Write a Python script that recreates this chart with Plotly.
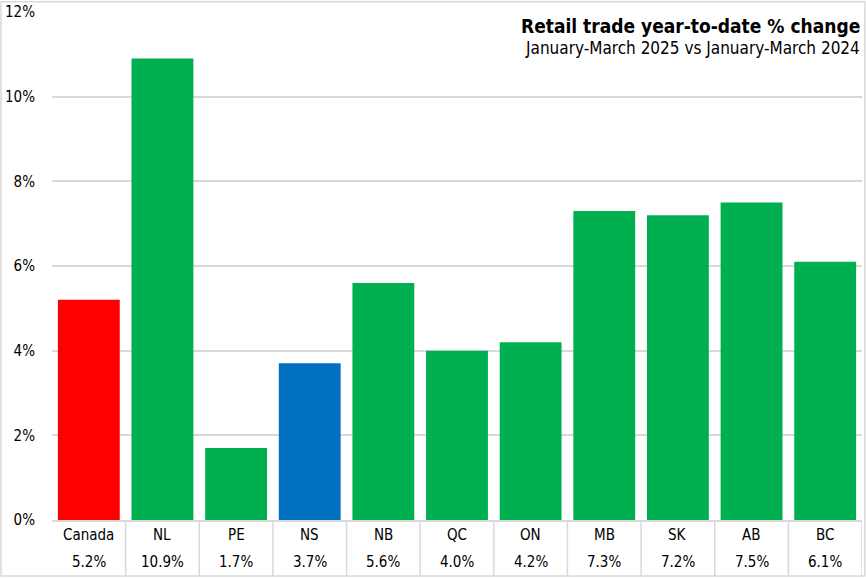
import plotly.graph_objects as go

categories = ["Canada", "NL", "PE", "NS", "NB", "QC", "ON", "MB", "SK", "AB", "BC"]
values = [5.2, 10.9, 1.7, 3.7, 5.6, 4.0, 4.2, 7.3, 7.2, 7.5, 6.1]
colors = ["#FF0000", "#00B050", "#00B050", "#0070C0", "#00B050", "#00B050",
          "#00B050", "#00B050", "#00B050", "#00B050", "#00B050"]
y_ticks = [0, 2, 4, 6, 8, 10, 12]
y_tick_labels = ["0%", "2%", "4%", "6%", "8%", "10%", "12%"]
title = "Retail trade year-to-date % change"
subtitle = "January-March 2025 vs January-March 2024"

FONT = "DejaVu Sans Condensed, Roboto, Liberation Sans"
LINE = "#D9D9D9"

fig = go.Figure()
fig.add_trace(go.Bar(
    x=list(range(len(categories))), y=values, marker_color=colors,
    marker_line_width=0, width=0.84, hoverinfo="skip"))

shapes = []
n = len(categories)
for k in range(1, n + 1):
    shapes.append(dict(type="line", xref="x", yref="paper",
                       x0=k - 0.5, x1=k - 0.5, y0=0, y1=-0.110,
                       line=dict(color=LINE, width=1.5)))
# outer border
shapes.append(dict(type="rect", xref="paper", yref="paper",
                   x0=-0.063, x1=1.0035, y0=-0.110, y1=1.020,
                   line=dict(color=LINE, width=1.5)))

annotations = []
for i, (c, v) in enumerate(zip(categories, values)):
    annotations.append(dict(x=i, y=-0.030, xref="x", yref="paper", text=c,
                            showarrow=False, font=dict(family=FONT, size=15, color="#000000"),
                            yanchor="middle"))
    annotations.append(dict(x=i, y=-0.083, xref="x", yref="paper", text=f"{v:.1f}%",
                            showarrow=False, font=dict(family=FONT, size=15, color="#000000"),
                            yanchor="middle"))
annotations.append(dict(x=1.0, y=0.972, xref="paper", yref="paper", text="<b>" + title + "</b>",
                        showarrow=False, xanchor="right", yanchor="middle",
                        font=dict(family=FONT, size=19, color="#000000")))
annotations.append(dict(x=1.0, y=0.929, xref="paper", yref="paper", text=subtitle,
                        showarrow=False, xanchor="right", yanchor="middle",
                        font=dict(family=FONT, size=17, color="#000000")))

fig.update_layout(
    width=866, height=578,
    margin=dict(l=52, r=4, t=12, b=58, autoexpand=False),
    paper_bgcolor="white", plot_bgcolor="white",
    showlegend=False, bargap=0.16,
    shapes=shapes, annotations=annotations,
    xaxis=dict(range=[-0.5, n - 0.5], showticklabels=False, showgrid=False,
               zeroline=False, showline=True, linecolor=LINE, linewidth=1.5, ticks=""),
    yaxis=dict(range=[0, 12], tickvals=y_ticks, ticktext=y_tick_labels,
               showgrid=True, gridcolor=LINE, gridwidth=1.5, zeroline=False,
               showline=False, ticks="", ticklabelstandoff=16, automargin=False,
               tickfont=dict(family=FONT, size=15, color="#000000")),
)

fig.write_html("out.html", config={"displayModeBar": False},
               post_script="document.body.style.margin='0';document.body.style.padding='0';")
